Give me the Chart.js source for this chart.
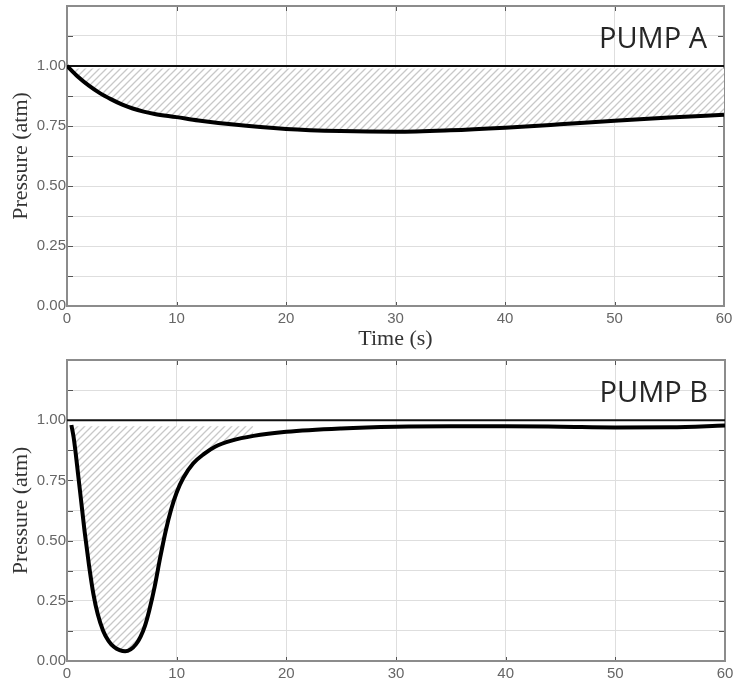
<!DOCTYPE html>
<html><head><meta charset="utf-8">
<script src="https://cdn.jsdelivr.net/npm/chart.js@4/dist/chart.umd.min.js"></script>
<style>
html,body{margin:0;padding:0;background:#fff;}
#wrap{position:relative;width:733px;height:681px;overflow:hidden;}
.box{position:absolute;left:0;width:733px;}
</style></head><body>
<div id="wrap">
<div class="box" style="top:0;height:350px"><canvas id="cA"></canvas></div>
<div class="box" style="top:350px;height:331px"><canvas id="cB"></canvas></div>
</div>
<script>
// ---- data ----
const timeA     = [0, 1, 2, 3, 4, 5, 6, 7, 8, 10, 12, 15, 20, 25, 30, 35, 40, 45, 50, 55, 60];
const pressureA = [1.0, 0.955, 0.918, 0.887, 0.862, 0.84, 0.823, 0.81, 0.80, 0.787, 0.773, 0.757, 0.738, 0.729, 0.726, 0.732, 0.743, 0.757, 0.772, 0.785, 0.797];

const timeB     = [0.4, 0.6, 0.8, 1.0, 1.3, 1.6, 2.0, 2.4, 2.8, 3.3, 3.8, 4.3, 4.8, 5.3, 5.8, 6.3, 6.7, 7.1, 7.5, 8.0, 8.5, 9.0, 9.5, 10.0, 10.6, 11.5, 12.5, 13.5, 15, 17, 20, 25, 30, 35, 40, 45, 50, 55, 60];
const pressureB = [0.98, 0.93, 0.86, 0.78, 0.66, 0.54, 0.40, 0.28, 0.195, 0.125, 0.083, 0.058, 0.045, 0.04, 0.048, 0.07, 0.10, 0.145, 0.21, 0.31, 0.43, 0.54, 0.63, 0.70, 0.76, 0.82, 0.86, 0.89, 0.915, 0.935, 0.952, 0.966, 0.973, 0.975, 0.975, 0.973, 0.970, 0.971, 0.978];

const xTickValues  = [0, 10, 20, 30, 40, 50, 60];
const yTickLabels  = ['0.00', '0.25', '0.50', '0.75', '1.00'];
const referenceLevel = 1.0;
const hatchTopA = 0.99;
const hatchTopB = 0.975;
const hatchEndB = 17;
const pumpTitles = ['PUMP A', 'PUMP B'];
const xTitle = 'Time (s)';
const yTitle = 'Pressure (atm)';

// ---- helpers ----
function pts(xs, ys){ return xs.map((x,i)=>({x:x, y:ys[i]})); }
function hatch(){
  const s=7, c=document.createElement('canvas'); c.width=s; c.height=s;
  const g=c.getContext('2d');
  g.fillStyle='#fff'; g.fillRect(0,0,s,s);
  g.strokeStyle='#c8c8c8'; g.lineWidth=1.3;
  g.beginPath();
  g.moveTo(0,s); g.lineTo(s,0);
  g.moveTo(-1,1); g.lineTo(1,-1);
  g.moveTo(s-1,s+1); g.lineTo(s+1,s-1);
  g.stroke();
  return g.createPattern(c,'repeat');
}
const framePlugin = {
  id:'frame',
  beforeDatasetsDraw(chart){
    const {ctx, chartArea:a, scales:{x,y}} = chart;
    ctx.save();
    ctx.strokeStyle='#555'; ctx.lineWidth=1;
    const ln=(x1,y1,x2,y2)=>{ctx.beginPath();ctx.moveTo(x1,y1);ctx.lineTo(x2,y2);ctx.stroke();};
    y.ticks.forEach(t=>{const py=Math.round(y.getPixelForValue(t.value))+0.5; ln(a.left,py,a.left+6,py); ln(a.right-6,py,a.right,py);});
    x.ticks.forEach(t=>{const px=Math.round(x.getPixelForValue(t.value))+0.5; ln(px,a.top,px,a.top+5); ln(px,a.bottom-4,px,a.bottom);});
    ctx.strokeStyle='#8c8c8c'; ctx.lineWidth=2;
    ctx.strokeRect(a.left,a.top,a.right-a.left,a.bottom-a.top);
    ctx.restore();
  },
  afterDatasetsDraw(chart, args, opts){
    if(!opts || !opts.text) return;
    const {ctx, chartArea:a} = chart;
    ctx.save();
    ctx.font = '29px "Open Sans", "Noto Sans", sans-serif';
    ctx.fillStyle = '#262626';
    ctx.textAlign = 'right';
    ctx.textBaseline = 'alphabetic';
    ctx.fillText(opts.text, a.right - 17, a.top + 42);
    ctx.restore();
  }
};

function makeOptions(opt){
  return {
    responsive:true, maintainAspectRatio:false, animation:false,
    layout:{padding:opt.padding},
    plugins:{legend:{display:false}, tooltip:{enabled:false}, frame:{text:opt.label}},
    elements:{point:{radius:0}},
    scales:{
      x:{type:'linear', min:0, max:60,
        afterFit:(s)=>{s.height=opt.xHeight; s.paddingLeft=0; s.paddingRight=0;},
        afterBuildTicks:(s)=>{s.ticks = xTickValues.map(v=>({value:v}));},
        ticks:{stepSize:10, autoSkip:false, maxRotation:0, padding:4, color:'#666',
          font:{family:'"Liberation Sans", Arial, sans-serif', size:15}},
        grid:{color:'#dedede', lineWidth:1, drawTicks:false},
        border:{display:false},
        title:{display:!!opt.xTitle, text:opt.xTitle||'', color:'#333',
          font:{family:'"Liberation Serif", "Times New Roman", serif', size:22, lineHeight:1},
          padding:{top:0,bottom:0}}
      },
      y:{type:'linear', min:0, max:1.25,
        afterFit:(s)=>{s.width=67; s.paddingTop=0; s.paddingBottom=0;},
        ticks:{stepSize:0.125, autoSkip:false, padding:1, color:'#666',
          font:{family:'"Liberation Sans", Arial, sans-serif', size:15},
          callback:(v)=>{const l=Number(v).toFixed(2); return yTickLabels.includes(l)?l:'';}},
        grid:{color:'#dedede', lineWidth:1, drawTicks:false},
        border:{display:false},
        title:{display:true, text:yTitle, color:'#333',
          font:{family:'"Liberation Serif", "Times New Roman", serif', size:22, lineHeight:1},
          padding:{top:10,bottom:0}}
      }
    }
  };
}

const pat = hatch();
const refLine = [{x:0,y:referenceLevel},{x:60,y:referenceLevel}];

new Chart(document.getElementById('cA'), {
  type:'line',
  data:{datasets:[
    {data:pts(timeA,pressureA), borderColor:'#000', borderWidth:4, cubicInterpolationMode:'monotone',
     backgroundColor:pat, fill:{value:hatchTopA}},
    {data:refLine, borderColor:'#111', borderWidth:2, fill:false}
  ]},
  options:makeOptions({padding:{top:6,right:9,left:0,bottom:0}, xHeight:44, xTitle:xTitle, label:pumpTitles[0]}),
  plugins:[framePlugin]
});

const hatchIdx = timeB.map((t,i)=>i).filter(i=>timeB[i]<=hatchEndB);
new Chart(document.getElementById('cB'), {
  type:'line',
  data:{datasets:[
    {data:pts(timeB,pressureB), borderColor:'#000', borderWidth:4, cubicInterpolationMode:'monotone', fill:false},
    {data:hatchIdx.map(i=>({x:timeB[i], y:pressureB[i]})), borderWidth:0, borderColor:'rgba(0,0,0,0)',
     cubicInterpolationMode:'monotone', backgroundColor:pat, fill:{value:hatchTopB}},
    {data:refLine, borderColor:'#111', borderWidth:2, fill:false}
  ]},
  options:makeOptions({padding:{top:10,right:8,left:0,bottom:0}, xHeight:20, xTitle:null, label:pumpTitles[1]}),
  plugins:[framePlugin]
});
</script>
</body></html>
